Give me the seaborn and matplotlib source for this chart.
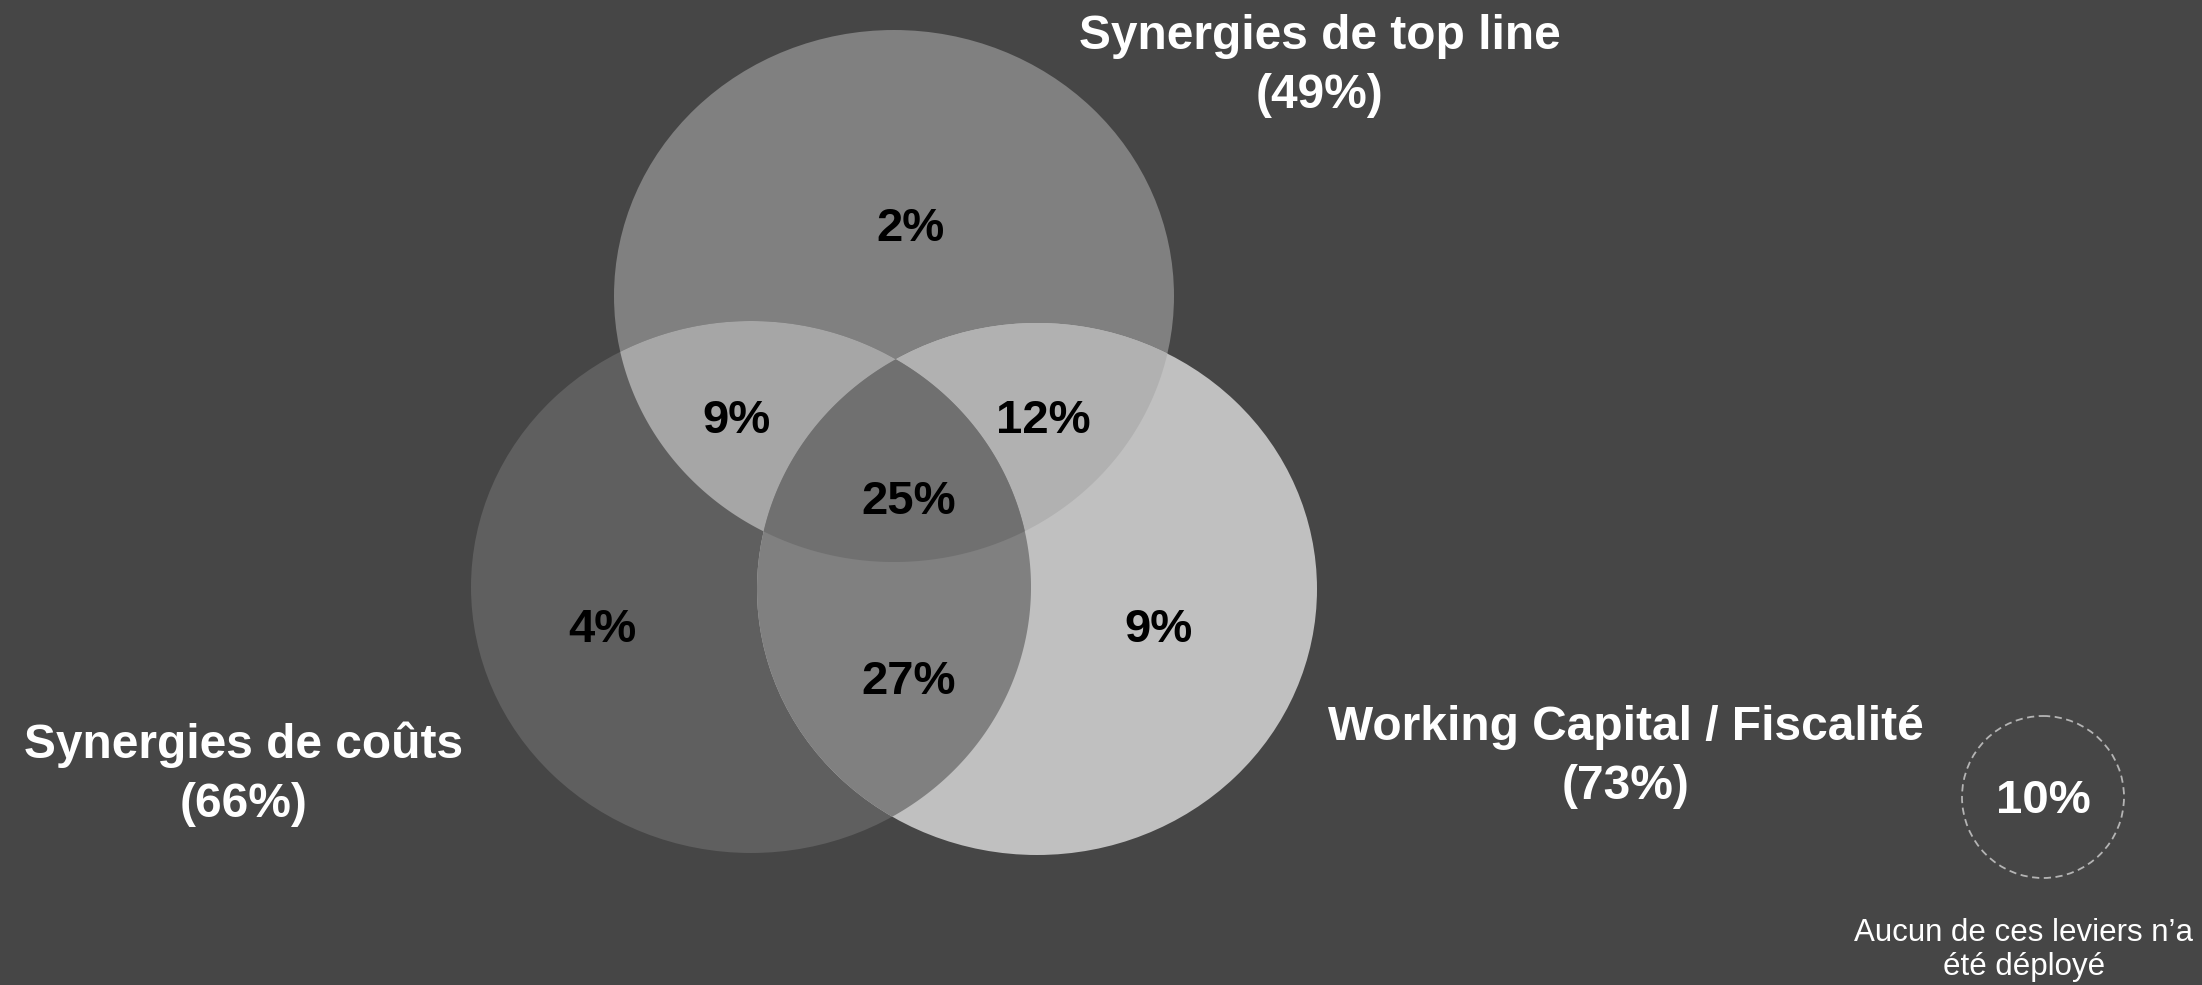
import numpy as np
import matplotlib
matplotlib.use("Agg")
import matplotlib.pyplot as plt
from matplotlib.patches import Ellipse, Circle, Polygon
import seaborn as sns

# ---- data -------------------------------------------------------------
set_names = ["Synergies de top line", "Synergies de coûts", "Working Capital / Fiscalité"]
set_totals = [49, 66, 73]

# membership of each Venn region (top line, coûts, working capital) and its share
region_members = [(1, 0, 0), (1, 1, 0), (1, 0, 1), (1, 1, 1), (0, 1, 0), (0, 1, 1), (0, 0, 1)]
region_values = [2, 9, 12, 25, 4, 27, 9]

none_value = 10
none_caption = "Aucun de ces leviers n’a\nété déployé"

# ---- style ------------------------------------------------------------
sns.set_theme(style="white")
FONT = ["Liberation Sans", "DejaVu Sans"]
plt.rcParams["font.family"] = FONT

BG = "#464646"
base_colors = ["#808080", "#5f5f5f", "#c0c0c0"]
pair_colors = {(0, 1): "#a6a6a6", (0, 2): "#b1b1b1", (1, 2): "#808080"}
triple_color = "#707070"

# ellipse geometry in pixel space (x right, y down)
centers = [(894, 296), (751, 587), (1037, 589)]
RX, RY = 280, 266

# label anchor for each region, same order as region_members
label_xy = [(910, 229), (736, 421), (1043, 421), (909, 502), (602, 630), (909, 682), (1158, 630)]
set_label_xy = [(1320, 66), (244, 774), (1626, 757)]

fig = plt.figure(figsize=(22.02, 9.85), dpi=100, facecolor=BG)
ax = fig.add_axes([0, 0, 1, 1])
ax.set_facecolor(BG)
ax.set_xlim(0, 2202)
ax.set_ylim(985, 0)
ax.axis("off")


def inside(pts, c, tol=1e-9):
    return ((pts[:, 0] - c[0]) / RX) ** 2 + ((pts[:, 1] - c[1]) / RY) ** 2 <= 1 + tol


def boundary(c, n=4000):
    t = np.linspace(0, 2 * np.pi, n, endpoint=False)
    return np.column_stack([c[0] + RX * np.cos(t), c[1] + RY * np.sin(t)])


def intersection_polygon(idx):
    """Convex intersection of several ellipses as a sampled polygon."""
    pts = []
    for i in idx:
        b = boundary(centers[i])
        keep = np.ones(len(b), bool)
        for j in idx:
            if j != i:
                keep &= inside(b, centers[j], 1e-6)
        pts.append(b[keep])
    pts = np.vstack(pts)
    m = pts.mean(axis=0)
    order = np.argsort(np.arctan2(pts[:, 1] - m[1], pts[:, 0] - m[0]))
    return pts[order]


# base sets
for c, col in zip(centers, base_colors):
    ax.add_patch(Ellipse(c, 2 * RX, 2 * RY, facecolor=col, edgecolor="none", zorder=1))

# pairwise overlaps
for (i, j), col in pair_colors.items():
    ax.add_patch(Polygon(intersection_polygon([i, j]), closed=True,
                         facecolor=col, edgecolor="none", zorder=2))

# triple overlap
ax.add_patch(Polygon(intersection_polygon([0, 1, 2]), closed=True,
                     facecolor=triple_color, edgecolor="none", zorder=3))

# region values
for (x, y), v in zip(label_xy, region_values):
    ax.text(x, y, f"{v}%", ha="center", va="center", fontsize=34,
            fontweight="bold", color="black", family=FONT, zorder=5)

# set names with totals
for (x, y), name, tot in zip(set_label_xy, set_names, set_totals):
    ax.text(x, y, f"{name}\n({tot}%)", ha="center", va="center", fontsize=34.5,
            fontweight="bold", color="white", linespacing=1.4, family=FONT, zorder=5)

# outside share
ax.add_patch(Circle((2043, 797), 81, facecolor="none", edgecolor="#b4b4b4",
                    linewidth=1.3, linestyle=(0, (4, 2.5)), zorder=4))
ax.text(2043, 801, f"{none_value}%", ha="center", va="center", fontsize=34,
        fontweight="bold", color="white", family=FONT, zorder=5)
ax.text(2024, 950, none_caption, ha="center", va="center", fontsize=22.5,
        color="white", linespacing=1.2, family=FONT, zorder=5)

fig.savefig("out.png", dpi=100, facecolor=BG)
